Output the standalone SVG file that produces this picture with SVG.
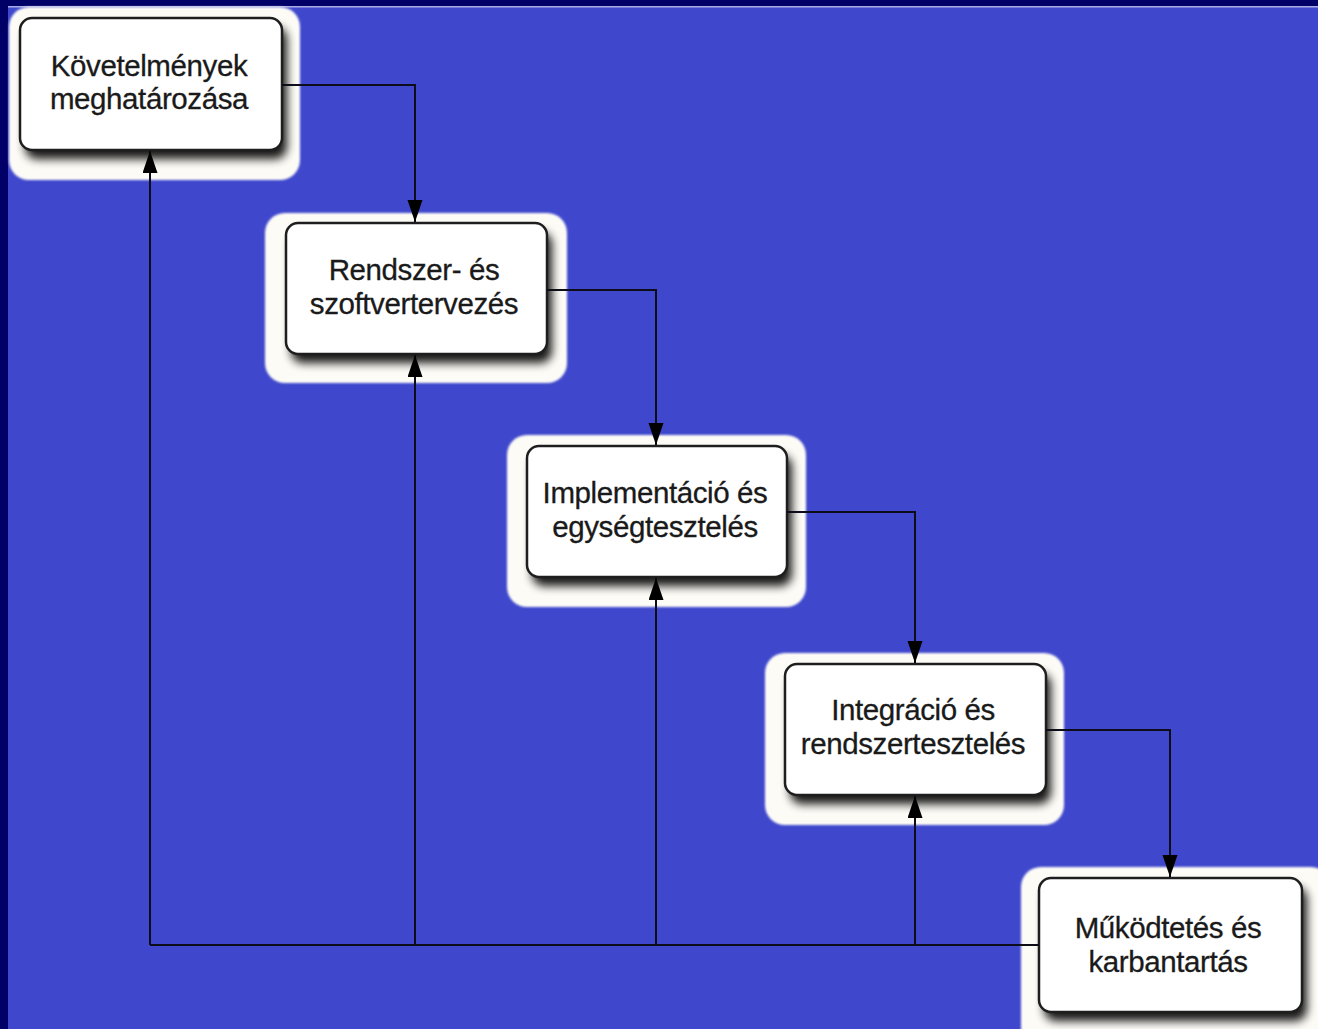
<svg xmlns="http://www.w3.org/2000/svg" width="1318" height="1029" viewBox="0 0 1318 1029">
  <style>
    .halo { fill: #fcfbf6; filter: url(#soft); }
    .shade { fill: #000; opacity: 0.9; filter: url(#drop); }
    .box { fill: #ffffff; stroke: #1e1e1e; stroke-width: 2.5; }
    .label { font-family: "Liberation Sans", Arial, sans-serif; font-size: 29.5px; letter-spacing: -0.4px; fill: #1a1a1a; stroke: #1a1a1a; stroke-width: 0.3; text-anchor: middle; }
    .wire { fill: none; stroke: #0d0d1a; stroke-width: 2; }
    .arrow { marker-end: url(#head); }
  </style>
  <defs>
    <filter id="soft" x="-10%" y="-10%" width="120%" height="120%">
      <feGaussianBlur stdDeviation="1"/>
    </filter>
    <filter id="drop" x="-20%" y="-20%" width="140%" height="150%">
      <feGaussianBlur stdDeviation="5"/>
    </filter>
    <marker id="head" markerUnits="userSpaceOnUse" markerWidth="24" markerHeight="16" refX="22" refY="7.5" orient="auto">
      <path d="M0,0 L22,7.5 L0,15 z" fill="#000"/>
    </marker>
  </defs>

  <!-- background with dark frame -->
  <rect width="1318" height="1029" fill="#3f48cc"/>
  <rect width="1318" height="6" fill="#000066"/>
  <rect y="6" width="1318" height="1.5" fill="#a8aae6"/>
  <rect width="8" height="1029" fill="#000066"/>

  <!-- phases -->
  <g id="node-kovetelmenyek">
    <rect class="halo" x="9" y="7" width="291" height="173" rx="20"/>
    <rect class="shade" x="25" y="27" width="262" height="132" rx="12"/>
    <rect class="box" x="20" y="18" width="262" height="132" rx="12"/>
    <text class="label" x="149" y="76">Követelmények</text>
    <text class="label" x="149" y="109">meghatározása</text>
  </g>

  <g id="node-tervezes">
    <rect class="halo" x="265" y="213" width="302" height="170" rx="20"/>
    <rect class="shade" x="291" y="232" width="261" height="131" rx="12"/>
    <rect class="box" x="286" y="223" width="261" height="131" rx="12"/>
    <text class="label" x="414" y="280">Rendszer- és</text>
    <text class="label" x="414" y="314">szoftvertervezés</text>
  </g>

  <g id="node-implementacio">
    <rect class="halo" x="507" y="435" width="299" height="172" rx="20"/>
    <rect class="shade" x="532" y="455" width="260" height="131" rx="12"/>
    <rect class="box" x="527" y="446" width="260" height="131" rx="12"/>
    <text class="label" x="655" y="503">Implementáció és</text>
    <text class="label" x="655" y="537">egységtesztelés</text>
  </g>

  <g id="node-integracio">
    <rect class="halo" x="765" y="653" width="299" height="172" rx="20"/>
    <rect class="shade" x="790" y="673" width="261" height="131" rx="12"/>
    <rect class="box" x="785" y="664" width="261" height="131" rx="12"/>
    <text class="label" x="913" y="720">Integráció és</text>
    <text class="label" x="913" y="754">rendszertesztelés</text>
  </g>

  <g id="node-mukodtetes">
    <rect class="halo" x="1021" y="867" width="310" height="180" rx="20"/>
    <rect class="shade" x="1044" y="887" width="263" height="134" rx="12"/>
    <rect class="box" x="1039" y="878" width="263" height="134" rx="12"/>
    <text class="label" x="1168" y="938">Működtetés és</text>
    <text class="label" x="1168" y="972">karbantartás</text>
  </g>

  <!-- connectors -->
  <g id="connectors">
    <!-- forward flow -->
    <path class="wire arrow" d="M282,85 H415 V222"/>
    <path class="wire arrow" d="M547,290 H656 V445"/>
    <path class="wire arrow" d="M787,512 H915 V663"/>
    <path class="wire arrow" d="M1046,730 H1170 V877"/>
    <!-- feedback from operation -->
    <path class="wire" d="M1039,945 H150"/>
    <path class="wire arrow" d="M150,945 V151"/>
    <path class="wire arrow" d="M415,945 V355"/>
    <path class="wire arrow" d="M656,945 V578"/>
    <path class="wire arrow" d="M915,945 V796"/>
  </g>
</svg>
